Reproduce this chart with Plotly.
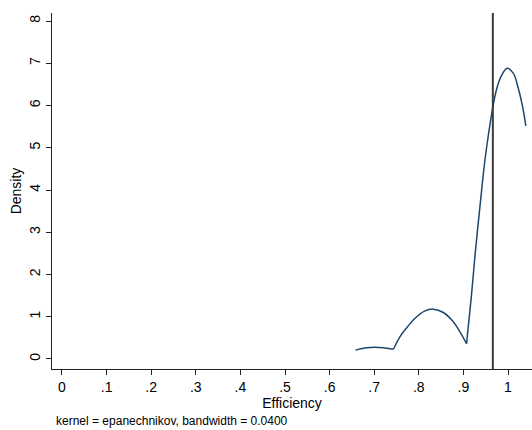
import plotly.graph_objects as go

# Kernel density estimate of efficiency scores
efficiency = [0.658, 0.679, 0.702, 0.724, 0.743, 0.758, 0.773, 0.791, 0.814,
              0.833, 0.855, 0.874, 0.892, 0.907, 0.918, 0.926, 0.937, 0.948,
              0.960, 0.967, 0.975, 0.986, 0.998, 1.012, 1.023, 1.032, 1.040]
density = [0.21, 0.26, 0.28, 0.26, 0.23, 0.53, 0.74, 0.96, 1.14,
           1.18, 1.10, 0.92, 0.65, 0.36, 1.50, 2.45, 3.60, 4.68,
           5.58, 6.02, 6.41, 6.72, 6.88, 6.76, 6.41, 6.01, 5.52]

# Indices where the estimate has a kink (kept sharp between smooth pieces)
kink_idx = [4, 13]

# Reference line (mean efficiency)
ref_x = 0.966

x_ticks = [0, 0.1, 0.2, 0.3, 0.4, 0.5, 0.6, 0.7, 0.8, 0.9, 1.0]
x_tick_labels = ["0", ".1", ".2", ".3", ".4", ".5", ".6", ".7", ".8", ".9", "1"]
y_ticks = [0, 1, 2, 3, 4, 5, 6, 7, 8]

FONT = "Liberation Sans, Arial, Helvetica, sans-serif"
LINE_COLOR = "#1a476f"

fig = go.Figure()
bounds = [0] + kink_idx + [len(efficiency) - 1]
for a, b in zip(bounds[:-1], bounds[1:]):
    fig.add_trace(go.Scatter(
        x=efficiency[a:b + 1], y=density[a:b + 1], mode="lines",
        line=dict(color=LINE_COLOR, width=1.5, shape="spline", smoothing=1.0),
        showlegend=False, hoverinfo="skip",
    ))

fig.add_vline(x=ref_x, line=dict(color="#3c3c3c", width=2))

fig.update_layout(
    width=532, height=430,
    margin=dict(l=52, r=0, t=13, b=61),
    paper_bgcolor="white", plot_bgcolor="white",
    font=dict(family=FONT, color="black", size=14),
    xaxis=dict(
        range=[-0.0224, 1.0538],
        tickvals=x_ticks, ticktext=x_tick_labels,
        showgrid=False, zeroline=False,
        showline=True, linecolor="#222", linewidth=1,
        ticks="outside", ticklen=5, tickcolor="#222",
        tickfont=dict(size=14),
        title=dict(text="Efficiency", font=dict(size=14), standoff=2),
    ),
    yaxis=dict(
        range=[-0.237, 8.19],
        tickvals=y_ticks,
        showgrid=False, zeroline=False,
        showline=True, linecolor="#222", linewidth=1,
        ticks="outside", ticklen=5, tickcolor="#222",
        tickangle=-90, tickfont=dict(size=14),
        title=dict(text="Density", font=dict(size=14), standoff=2),
    ),
    annotations=[dict(
        text="kernel = epanechnikov, bandwidth = 0.0400",
        xref="paper", yref="paper", x=0.004, y=-0.146,
        xanchor="left", yanchor="middle", showarrow=False,
        font=dict(size=12, family=FONT),
    )],
)

fig.write_html("out.html")
